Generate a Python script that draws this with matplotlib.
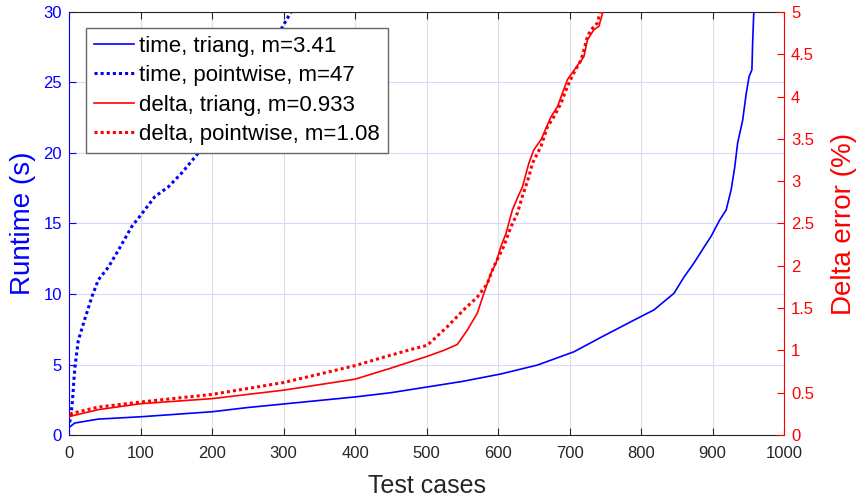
import matplotlib
matplotlib.use("Agg")
import matplotlib.pyplot as plt

plt.rcParams['font.family'] = ['Liberation Sans', 'DejaVu Sans']

# runtime (s)
time_triang_x = [1, 8, 41, 102, 200, 250, 300, 350, 400, 450, 500, 550, 604, 655, 706, 744,
                 786, 818, 846, 860, 874, 884, 898, 910, 919, 926, 931, 935, 942, 947, 951,
                 955, 956, 958]
time_triang = [0.57, 0.85, 1.13, 1.3, 1.65, 1.95, 2.2, 2.45, 2.7, 3.0, 3.4, 3.8, 4.33, 4.96,
               5.9, 6.93, 8.04, 8.87, 10.05, 11.2, 12.2, 13.0, 14.1, 15.25, 15.96, 17.4, 19.0,
               20.7, 22.3, 24.2, 25.4, 25.9, 27.8, 30.5]

time_point_x = [1, 3, 5, 7, 8.4, 13, 22, 32, 41, 55, 69, 88, 102, 120, 139, 158, 176, 200,
                230, 260, 290, 314]
time_point = [0.9, 1.5, 2.5, 4.0, 4.84, 6.7, 8.2, 9.8, 11.0, 11.9, 13.1, 14.8, 15.7, 16.9,
              17.6, 18.6, 19.7, 21.2, 23.2, 25.5, 28.2, 30.3]

# delta error (%)
delta_triang_x = [1, 41, 100, 200, 300, 400, 450, 501, 524, 543, 557, 571, 580, 590, 597, 604,
                  611, 620, 627, 634, 643, 650, 660, 674, 683, 697, 713, 720, 725, 734, 741,
                  746, 748]
delta_triang = [0.22, 0.3, 0.37, 0.43, 0.53, 0.66, 0.79, 0.93, 1.0, 1.07, 1.24, 1.44, 1.67,
                1.91, 2.03, 2.23, 2.38, 2.66, 2.80, 2.93, 3.21, 3.37, 3.49, 3.76, 3.88, 4.20,
                4.39, 4.47, 4.67, 4.79, 4.83, 4.98, 5.1]

delta_point_x = [1, 41, 100, 200, 300, 400, 436, 482, 501, 529, 552, 571, 585, 594, 608, 618,
                 627, 634, 643, 648, 660, 669, 678, 688, 697, 706, 716, 720, 725, 730, 739, 744]
delta_point = [0.25, 0.33, 0.39, 0.48, 0.62, 0.82, 0.91, 1.02, 1.06, 1.28, 1.48, 1.63, 1.79,
               1.99, 2.23, 2.46, 2.62, 2.82, 3.05, 3.21, 3.41, 3.64, 3.76, 3.92, 4.12, 4.28,
               4.43, 4.55, 4.71, 4.79, 4.87, 5.05]

labels = ['time, triang, m=3.41', 'time, pointwise, m=47',
          'delta, triang, m=0.933', 'delta, pointwise, m=1.08']

dark = (0.15, 0.15, 0.15)
fig = plt.figure(figsize=(8.56, 4.97), dpi=100)
ax1 = fig.add_axes([0.0806, 0.1247, 0.8354, 0.8513])
ax2 = ax1.twinx()

l1, = ax1.plot(time_triang_x, time_triang, color='b', lw=1.2)
l2, = ax1.plot(time_point_x, time_point, color='b', lw=2.2, linestyle=(0, (1, 1)))
l3, = ax2.plot(delta_triang_x, delta_triang, color='r', lw=1.2)
l4, = ax2.plot(delta_point_x, delta_point, color='r', lw=2.2, linestyle=(0, (1, 1)))

ax1.set_xlim(0, 1000)
ax1.set_ylim(0, 30)
ax2.set_ylim(0, 5)
ax1.set_xticks(range(0, 1001, 100))
ax1.set_yticks(range(0, 31, 5))
ax2.set_yticks([0, 0.5, 1, 1.5, 2, 2.5, 3, 3.5, 4, 4.5, 5])
ax2.set_yticklabels(['0', '0.5', '1', '1.5', '2', '2.5', '3', '3.5', '4', '4.5', '5'])

ax1.set_axisbelow(True)
ax1.xaxis.grid(True, color=(0.87, 0.87, 0.87), lw=0.8)
ax1.yaxis.grid(True, color=(0.85, 0.85, 1.0), lw=0.8)

ax1.tick_params(axis='x', direction='in', top=True, length=5, labelsize=12,
                colors=dark, labelcolor=dark, pad=8)
ax1.tick_params(axis='y', direction='in', length=5, labelsize=12, colors='b', pad=5)
ax2.tick_params(axis='y', direction='in', length=5, labelsize=12, colors='r', pad=5)

for s in ['top', 'bottom']:
    ax1.spines[s].set_color(dark)
    ax2.spines[s].set_visible(False)
ax1.spines['left'].set_color('b')
ax1.spines['right'].set_visible(False)
ax2.spines['left'].set_visible(False)
ax2.spines['right'].set_color('r')

ax1.set_xlabel('Test cases', fontsize=18, color=dark, labelpad=9)
ax1.set_ylabel('Runtime (s)', fontsize=20, color='b', labelpad=5)
ax2.set_ylabel('Delta error (%)', fontsize=20, color='r', labelpad=12)

leg = ax2.legend([l1, l2, l3, l4], labels, loc='upper left', bbox_to_anchor=(0.024, 0.962),
                 borderaxespad=0, fontsize=16, handlelength=1.8, handletextpad=0.25,
                 labelspacing=0.38, borderpad=0.35, fancybox=False, framealpha=1)
leg.get_frame().set_edgecolor((0.4, 0.4, 0.4))
leg.get_frame().set_linewidth(1.0)

fig.savefig('out.png', dpi=100)
